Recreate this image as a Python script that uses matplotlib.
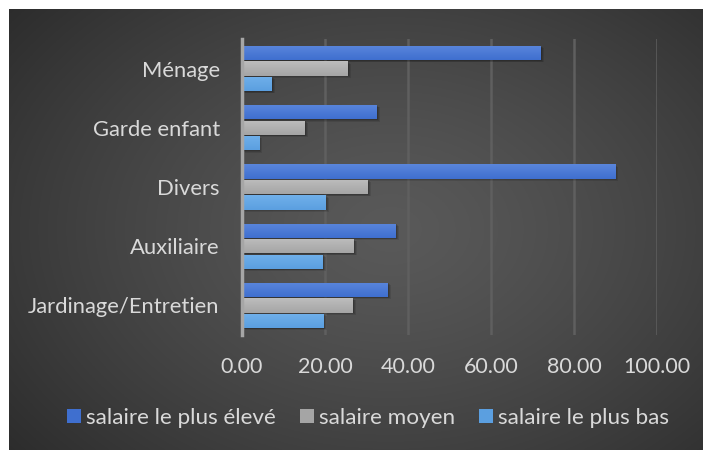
import numpy as np
import matplotlib.pyplot as plt
from matplotlib.patches import Patch

categories = ['Jardinage/Entretien', 'Auxiliaire', 'Divers', 'Garde enfant', 'Ménage']
salaire_eleve = [35.1, 37.0, 90.0, 32.5, 72.0]
salaire_moyen = [26.7, 26.9, 30.3, 15.1, 25.5]
salaire_bas = [19.7, 19.5, 20.2, 4.1, 7.2]
series_names = ['salaire le plus élevé', 'salaire moyen', 'salaire le plus bas']
xticks = [0, 20, 40, 60, 80, 100]

plt.rcParams['font.family'] = ['Lato', 'DejaVu Sans']

W, H = 703, 450
fig = plt.figure(figsize=(W / 100, H / 100), dpi=100)
fig.patch.set_facecolor('white')

# radial dark background
bg = fig.add_axes([9 / W, 0, 1 - 9 / W, 1 - 9 / H])
bg.set_axis_off()
yy, xx = np.mgrid[0:1:300j, 0:1:460j]
r = np.sqrt(((xx - 0.55) / 0.75) ** 2 + ((yy - 0.5) / 0.85) ** 2)
v = 0.35 - 0.19 * np.clip(r, 0, 1) ** 1.3
bg.imshow(np.dstack([v, v, v]), aspect='auto', extent=[0, 1, 0, 1])
bg.set_xlim(0, 1)
bg.set_ylim(0, 1)

ax = fig.add_axes([242 / W, 1 - 335 / H, (657 - 242) / W, (335 - 39) / H])
ax.set_facecolor('none')

y = np.arange(len(categories))
step = 0.262
h = 0.24
colors = ['#3f6fcf', '#a5a5a5', '#5b9fe0']
tops = ['#5a86dc', '#bdbdbd', '#70b0ea']
data = [salaire_eleve, salaire_moyen, salaire_bas]
offsets = [step, 0, -step]

for vals, off, c, ct in zip(data, offsets, colors, tops):
    # soft shadow
    for k, a in [(1.2, 0.10), (0.8, 0.12), (0.4, 0.15)]:
        ax.barh(y + off - 0.03 * k, vals, height=h, left=0.6 * k,
                color='black', alpha=a, linewidth=0, zorder=2)
    bars = ax.barh(y + off, vals, height=h, color=c, linewidth=0, zorder=3)
    grad = np.linspace(0, 1, 50)[:, None]
    c0 = np.array(plt.matplotlib.colors.to_rgb(ct))
    c1 = np.array(plt.matplotlib.colors.to_rgb(c))
    img = c0[None, None, :] * (1 - grad[:, :, None]) + c1[None, None, :] * grad[:, :, None]
    for b in bars:
        x0, y0 = b.get_x(), b.get_y()
        im = ax.imshow(img, extent=[x0, x0 + b.get_width(), y0, y0 + b.get_height()],
                       aspect='auto', zorder=4, origin='upper')
        im.set_clip_path(b)

ax.set_xlim(0, 100)
ax.set_ylim(-0.5, len(categories) - 0.5)
ax.set_xticks(xticks)
ax.set_xticklabels(['%.2f' % t for t in xticks])
ax.set_yticks(y)
ax.set_yticklabels(categories)
ax.grid(axis='x', color='#5f5f5f', linewidth=1.8, zorder=1)
ax.tick_params(axis='both', length=0, labelsize=15.5, colors='#d9d9d9')
ax.tick_params(axis='y', labelsize=15.8, pad=16)
ax.tick_params(axis='x', pad=16)
for s in ['top', 'right', 'bottom']:
    ax.spines[s].set_visible(False)
ax.spines['left'].set_color('#a6a6a6')
ax.spines['left'].set_linewidth(2.5)
ax.spines['left'].set_zorder(5)

handles = [Patch(facecolor=c, edgecolor='none') for c in colors]
fig.legend(handles, series_names, loc='center', bbox_to_anchor=(368 / W, 1 - 418 / H),
           ncol=3, frameon=False, fontsize=16.2, labelcolor='#d9d9d9',
           handlelength=0.62, handleheight=0.62, handletextpad=0.22, columnspacing=1.07)

fig.savefig('out.png', dpi=100, facecolor='white')
